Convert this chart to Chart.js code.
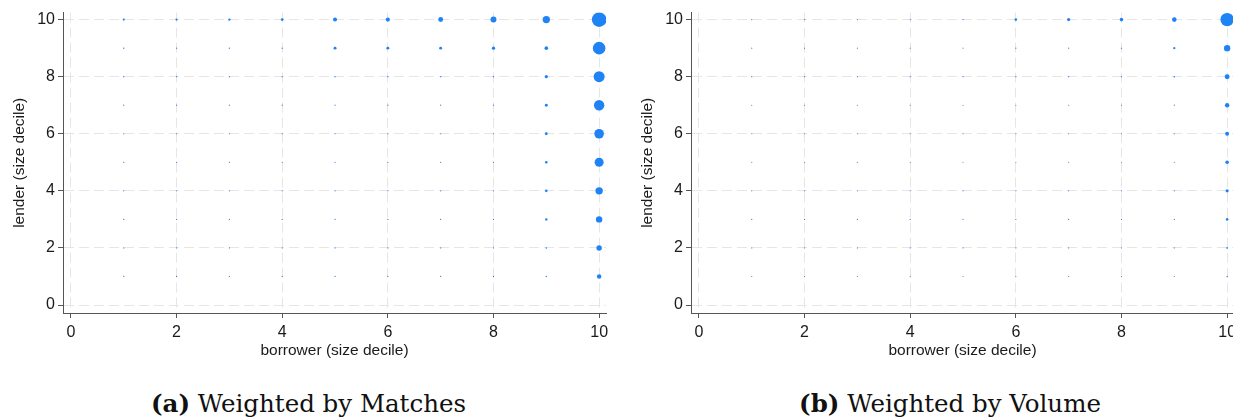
<!DOCTYPE html>
<html>
<head>
<meta charset="utf-8">
<script src="https://cdn.jsdelivr.net/npm/chart.js@4/dist/chart.umd.min.js"></script>
<style>
  body { margin: 0; width: 1233px; height: 419px; overflow: hidden; background: #fff; position: relative; }
  .panel { position: absolute; top: 0; }
  .caption { position: absolute; top: 389px; width: 620px; text-align: center; font-family: 'DejaVu Serif', serif; font-size: 24.5px; line-height: 30px; color: #111; white-space: nowrap; }
</style>
</head>
<body>
<div class="panel" style="left:0px"><canvas id="matches" width="615" height="370"></canvas></div>
<div class="panel" style="left:628px"><canvas id="volume" width="615" height="370"></canvas></div>
<div class="caption" style="left:-1.5px"><b>(a)</b> Weighted by Matches</div>
<div class="caption" style="left:640px"><b>(b)</b> Weighted by Volume</div>
<script>
// size deciles (borrower on x, lender on y)
const deciles = [1, 2, 3, 4, 5, 6, 7, 8, 9, 10]
const tickValues = [0, 2, 4, 6, 8, 10]

// share of total (%), one row per lender decile 1..10, columns = borrower decile 1..10
const matchShare = [
  [0.12, 0.12, 0.12, 0.12, 0.12, 0.12, 0.12, 0.12, 0.16, 1.6],
  [0.12, 0.12, 0.12, 0.12, 0.12, 0.12, 0.12, 0.12, 0.2, 2.4],
  [0.12, 0.12, 0.12, 0.12, 0.12, 0.12, 0.12, 0.12, 0.5, 3.3],
  [0.12, 0.12, 0.12, 0.12, 0.12, 0.12, 0.12, 0.12, 0.55, 4.5],
  [0.12, 0.12, 0.12, 0.12, 0.12, 0.12, 0.12, 0.12, 0.55, 6.6],
  [0.12, 0.12, 0.12, 0.12, 0.12, 0.12, 0.12, 0.12, 0.64, 7.5],
  [0.12, 0.12, 0.12, 0.12, 0.12, 0.12, 0.12, 0.12, 0.7, 8.8],
  [0.14, 0.14, 0.14, 0.14, 0.15, 0.15, 0.15, 0.15, 0.84, 9.9],
  [0.16, 0.16, 0.16, 0.16, 0.7, 0.7, 0.7, 0.9, 1.06, 12.9],
  [0.4, 0.4, 0.47, 0.64, 1.31, 1.4, 2.0, 2.9, 4.4, 17.4]
]
const volumeShare = [
  [0.1, 0.1, 0.1, 0.1, 0.1, 0.1, 0.1, 0.1, 0.1, 0.16],
  [0.1, 0.1, 0.1, 0.1, 0.1, 0.1, 0.1, 0.1, 0.1, 0.25],
  [0.1, 0.1, 0.1, 0.1, 0.1, 0.1, 0.1, 0.1, 0.1, 0.55],
  [0.1, 0.1, 0.1, 0.1, 0.1, 0.1, 0.1, 0.1, 0.1, 0.84],
  [0.1, 0.1, 0.1, 0.1, 0.1, 0.1, 0.1, 0.1, 0.1, 1.06],
  [0.1, 0.1, 0.1, 0.1, 0.1, 0.1, 0.1, 0.1, 0.1, 1.31],
  [0.1, 0.1, 0.1, 0.1, 0.1, 0.1, 0.1, 0.1, 0.12, 1.58],
  [0.1, 0.1, 0.1, 0.1, 0.1, 0.12, 0.12, 0.12, 0.2, 2.0],
  [0.1, 0.1, 0.1, 0.1, 0.1, 0.12, 0.12, 0.14, 0.4, 3.3],
  [0.12, 0.12, 0.12, 0.12, 0.15, 0.55, 0.84, 1.06, 1.73, 14.7]
]

// marker area proportional to share
const bubbleRadius = (w) => 1.75 * Math.sqrt(w)

const toPoints = (shares) => {
  const pts = []
  for (let i = 0; i < deciles.length; i++) {
    for (let j = 0; j < deciles.length; j++) {
      pts.push({ x: deciles[j], y: deciles[i], r: bubbleRadius(shares[i][j]) })
    }
  }
  return pts
}

const textColor = '#1a1a1a'
const fontFamily = "'Liberation Sans', Arial, sans-serif"
const setTicks = (scale) => { scale.ticks = tickValues.map(v => ({ value: v })) }

const makeChart = (id, shares) => {
  const ctx = document.getElementById(id).getContext('2d')
  return new Chart(ctx, {
    type: 'bubble',
    data: {
      datasets: [{
        data: toPoints(shares),
        backgroundColor: '#1f83f5',
        borderWidth: 0,
        hoverRadius: 0
      }]
    },
    options: {
      responsive: false,
      animation: false,
      layout: { padding: { top: 12, right: 9, bottom: 0, left: 0 } },
      plugins: { legend: { display: false }, tooltip: { enabled: false } },
      scales: {
        x: {
          type: 'linear',
          min: -0.15,
          max: 10.13,
          afterBuildTicks: setTicks,
          afterFit: (s) => { s.height = 57 },
          ticks: { color: textColor, font: { family: fontFamily, size: 16 }, padding: 5, maxRotation: 0 },
          grid: { color: '#e6e6e6', lineWidth: 1, tickColor: '#555', tickLength: 5 },
          border: { color: '#555', width: 1, dash: [10, 5] },
          title: { display: true, text: 'borrower (size decile)', color: textColor, font: { family: fontFamily, size: 15.5 }, padding: { top: 0, bottom: 10 } }
        },
        y: {
          type: 'linear',
          min: -0.28,
          max: 10.245,
          afterBuildTicks: setTicks,
          afterFit: (s) => { s.width = 63 },
          ticks: { color: textColor, font: { family: fontFamily, size: 16 }, padding: 3 },
          grid: { color: '#e6e6e6', lineWidth: 1, tickColor: '#555', tickLength: 5 },
          border: { color: '#555', width: 1, dash: [10, 5] },
          title: { display: true, text: 'lender (size decile)', color: textColor, font: { family: fontFamily, size: 15.5 }, padding: { top: 10.6, bottom: 0 } }
        }
      }
    }
  })
}

makeChart('matches', matchShare)
makeChart('volume', volumeShare)
</script>
</body>
</html>
